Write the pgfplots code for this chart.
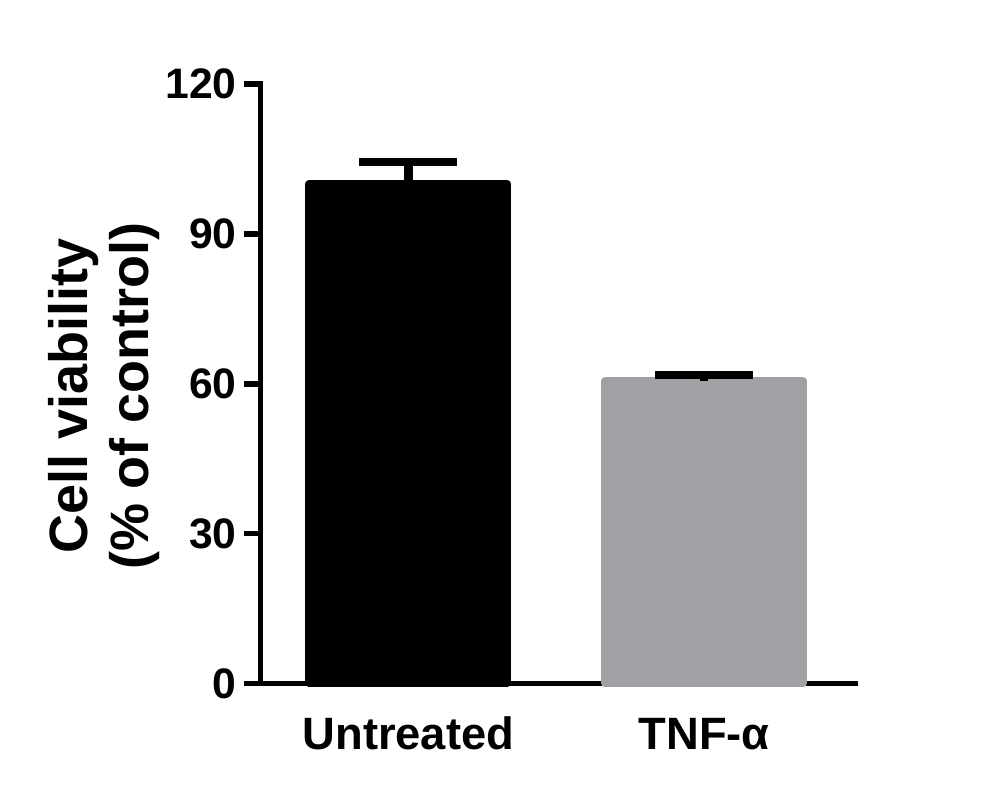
\documentclass[border=0pt]{standalone}
\usepackage{pgfplots}
\pgfplotsset{compat=1.18}
\usepackage{fontspec}
\setmainfont{Liberation Sans}
\definecolor{bargrey}{RGB}{161,160,165}
\pgfplotstableread{
x y err
1 100 4.4
}\untreated
\pgfplotstableread{
x y err
2 60.5 1.25
}\tnf
\begin{document}
\begin{tikzpicture}[x=0.75pt,y=0.75pt]
\path[use as bounding box] (0,0) rectangle (990,796);
\begin{axis}[
  at={(195.4pt,84.4pt)}, anchor=south west,
  scale only axis, width=445.9pt, height=449.6pt,
  xmin=0.5, xmax=2.51, ymin=0, ymax=120,
  axis x line*=bottom, axis y line*=left,
  axis line style={line width=4.2pt, line cap=rect},
  ytick={0,30,60,90,120},
  xtick={1,2}, xticklabels={Untreated, TNF-α},
  tick align=outside, major tick length=12.4pt,
  ytick style={line width=4.2pt, black},
  xtick style={draw=none},
  /pgf/number format/assume math mode=true,
  yticklabel style={font=\fontsize{32}{36}\selectfont\bfseries, anchor=east, xshift=-2pt},
  xticklabel style={font=\fontsize{34}{40}\selectfont\bfseries, anchor=base, yshift=-37pt},
  ybar, bar width=148.5pt, bar shift=0pt,
  clip=false,
]
\addplot[fill=black, draw=black, line width=6pt, line join=round,
  error bars/.cd, y dir=plus, y explicit, error mark=|,
  error bar style={line width=6.4pt, black},
  error mark options={line width=6.4pt, black, mark size=36.75pt}]
  table[x=x, y=y, y error=err] {\untreated};
\addplot[fill=bargrey, draw=bargrey, line width=6pt, line join=round,
  error bars/.cd, y dir=plus, y explicit, error mark=|,
  error bar style={line width=6.4pt, black},
  error mark options={line width=6.4pt, black, mark size=36.75pt}]
  table[x=x, y=y, y error=err] {\tnf};
\end{axis}
\node[rotate=90, align=center, font=\fontsize{40.5}{46}\selectfont\bfseries] at (104,400) {Cell viability\\(\% of control)};
\end{tikzpicture}
\end{document}
